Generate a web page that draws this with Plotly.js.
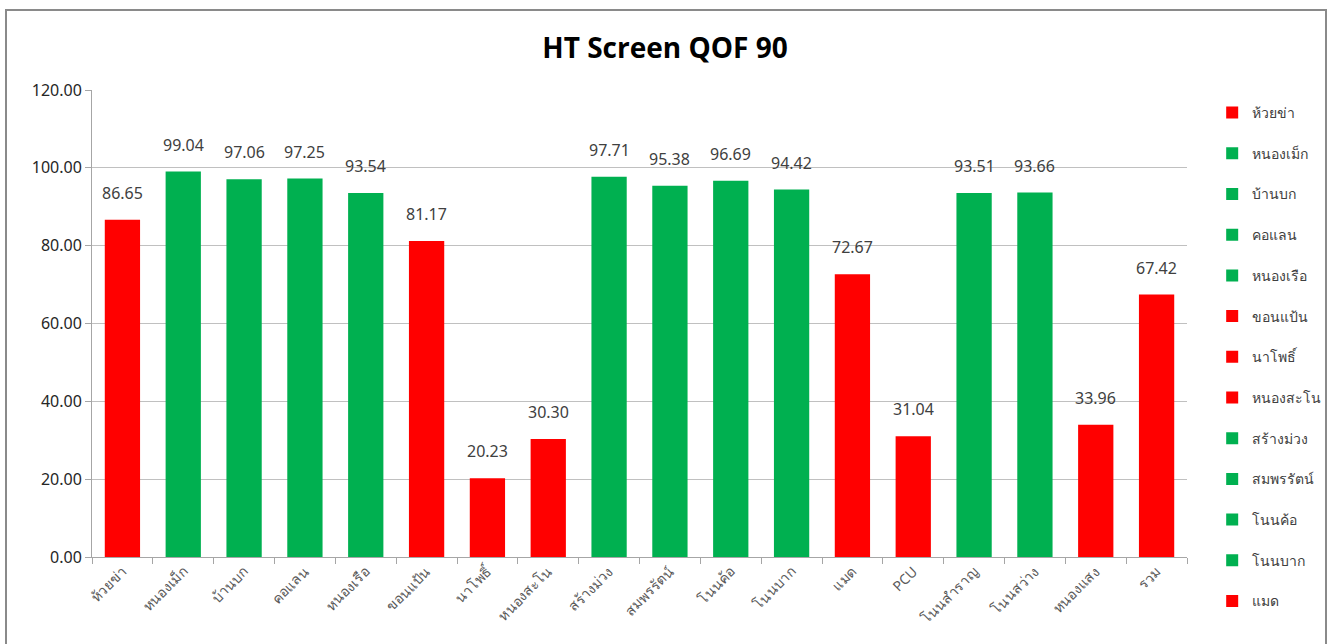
<!DOCTYPE html>
<html>
<head>
<meta charset="utf-8">
<script src="https://cdn.plot.ly/plotly-3.0.1.min.js"></script>
<style>
  html, body { margin: 0; padding: 0; background: #ffffff; }
  #chart { width: 1338px; height: 644px; }
  #frame { position: absolute; left: 5px; top: 9px; width: 1318px; height: 660px; border: 2px solid #8a8a8a; pointer-events: none; }
</style>
</head>
<body>
<div id="chart"></div>
<div id="frame"></div>
<script>
const categories = ["ห้วยข่า","หนองเม็ก","บ้านบก","คอแลน","หนองเรือ","ขอนแป้น","นาโพธิ์","หนองสะโน","สร้างม่วง","สมพรรัตน์","โนนค้อ","โนนบาก","แมด","PCU","โนนสำราญ","โนนสว่าง","หนองแสง","รวม"];
const values = [86.65, 99.04, 97.06, 97.25, 93.54, 81.17, 20.23, 30.30, 97.71, 95.38, 96.69, 94.42, 72.67, 31.04, 93.51, 93.66, 33.96, 67.42];
const target = 90;
const legendShown = 13;

const RED = "#FF0000", GREEN = "#00B050";
const FONT = "Noto Sans, DejaVu Sans, sans-serif";

const traces = categories.map((c, i) => ({
  type: "bar",
  name: c,
  x: [c],
  y: [values[i]],
  width: 0.58,
  marker: { color: values[i] >= target ? GREEN : RED },
  legendgroup: "g" + i,
  showlegend: i < legendShown,
  hoverinfo: "x+y"
}));

const annotations = categories.map((c, i) => ({
  x: c, y: values[i], xref: "x", yref: "y",
  text: values[i].toFixed(2),
  showarrow: false, yanchor: "bottom", yshift: 14,
  font: { family: FONT, size: 16, color: "#404040" }
}));

const layout = {
  width: 1338, height: 644,
  margin: { l: 92, r: 149, t: 90, b: 87 },
  paper_bgcolor: "#ffffff", plot_bgcolor: "#ffffff",
  barmode: "overlay",
  title: { text: "<b>HT Screen QOF 90</b>", x: 0.497, xanchor: "center", y: 0.925, yanchor: "middle",
           font: { family: "Open Sans, sans-serif", size: 28, color: "#000000" } },
  xaxis: {
    type: "category", categoryorder: "array", categoryarray: categories,
    tickangle: -45, ticks: "outside", tickson: "boundaries", ticklen: 6, tickcolor: "#a6a6a6",
    showline: true, linecolor: "#a6a6a6", linewidth: 1,
    tickfont: { family: FONT, size: 14, color: "#595959" },
    showgrid: false, fixedrange: true
  },
  yaxis: {
    range: [0, 120], dtick: 20, tick0: 0, tickformat: ".2f",
    ticks: "outside", ticklen: 6, tickcolor: "#a6a6a6",
    showline: true, linecolor: "#a6a6a6", linewidth: 1,
    gridcolor: "#c0c0c0", gridwidth: 1, zeroline: false,
    tickfont: { family: FONT, size: 16, color: "#262626" },
    fixedrange: true
  },
  legend: {
    x: 1.023, xanchor: "left", y: 0.985, yanchor: "top",
    traceorder: "grouped", tracegroupgap: 19.5,
    itemwidth: 30, maxheight: 640,
    font: { family: FONT, size: 14, color: "#404040" },
    bgcolor: "rgba(0,0,0,0)"
  },
  annotations: annotations,
  showlegend: true
};

Plotly.newPlot("chart", traces, layout, { displayModeBar: false, staticPlot: true });
</script>
</body>
</html>
